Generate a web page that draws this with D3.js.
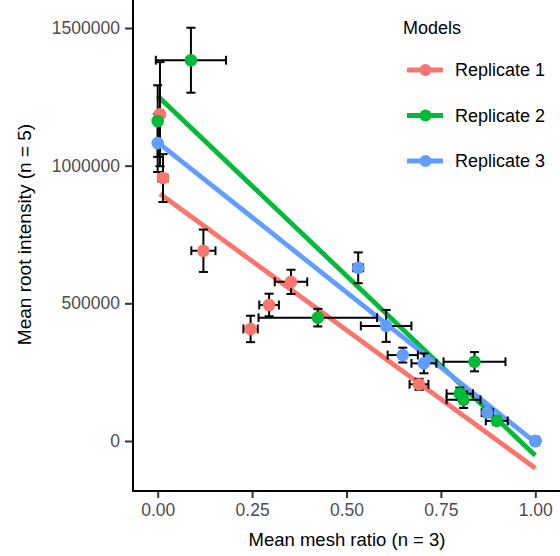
<!DOCTYPE html>
<html>
<head>
<meta charset="utf-8">
<script src="https://cdn.jsdelivr.net/npm/d3@7"></script>
<style>
  html, body { margin: 0; padding: 0; background: #ffffff; }
  svg { display: block; font-family: "Liberation Sans", Arial, sans-serif; }
</style>
</head>
<body>
<svg id="chart" width="560" height="556"></svg>
<script>
// ---------------- data ----------------
const seriesNames = ["Replicate 1", "Replicate 2", "Replicate 3"];
const seriesColors = ["#F8766D", "#00BA38", "#619CFF"];

const rep1X    = [0.006, 0.014, 0.121, 0.246, 0.295, 0.353, 0.692, 1.0];
const rep1Y    = [1187000, 955000, 691000, 407000, 494000, 578000, 206000, 0];
const rep1XErr = [0.008, 0.012, 0.032, 0.019, 0.026, 0.043, 0.025, 0.0];
const rep1YErr = [189000, 87000, 77000, 48000, 41000, 44000, 20000, 15000];

const rep2X    = [0.0, 0.088, 0.424, 0.800, 0.810, 0.839, 0.898, 1.0];
const rep2Y    = [1162000, 1383000, 448000, 172000, 150000, 288000, 73000, 0];
const rep2XErr = [0.006, 0.093, 0.157, 0.035, 0.045, 0.082, 0.029, 0.0];
const rep2YErr = [130000, 118000, 32000, 22000, 30000, 35000, 15000, 10000];

const rep3X    = [0.0, 0.531, 0.605, 0.649, 0.705, 0.873, 1.0];
const rep3Y    = [1082000, 629000, 418000, 312000, 282000, 103000, 0];
const rep3XErr = [0.005, 0.013, 0.067, 0.040, 0.033, 0.015, 0.005];
const rep3YErr = [105000, 56000, 58000, 27000, 36000, 15000, 12000];

// fitted model lines: value at x = 0 and at x = 1
const modelAt0 = [904000, 1253000, 1085000];
const modelAt1 = [-99000, -53000, -5000];

const xTicks = [0, 0.25, 0.5, 0.75, 1.0];
const xTickLabels = ["0.00", "0.25", "0.50", "0.75", "1.00"];
const yTicks = [0, 500000, 1000000, 1500000];
const yTickLabels = ["0", "500000", "1000000", "1500000"];

const xTitle = "Mean mesh ratio (n = 3)";
const yTitle = "Mean root intensity (n = 5)";
const legendTitle = "Models";

// ---------------- layout ----------------
const panel = { left: 133, right: 559, top: 0, bottom: 491 };
const x = d3.scaleLinear().domain([0, 1]).range([157.7, 535.3]);
const y = d3.scaleLinear().domain([0, 1500000]).range([441, 28]);

const svg = d3.select("#chart");

const reps = [
  { x: rep1X, y: rep1Y, xe: rep1XErr, ye: rep1YErr },
  { x: rep2X, y: rep2Y, xe: rep2XErr, ye: rep2YErr },
  { x: rep3X, y: rep3Y, xe: rep3XErr, ye: rep3YErr }
].map((r, i) => ({
  name: seriesNames[i],
  color: seriesColors[i],
  a: modelAt0[i],
  b: modelAt1[i] - modelAt0[i],
  pts: r.x.map((v, j) => ({ x: v, y: r.y[j], xe: r.xe[j], ye: r.ye[j] }))
}));

// ---------------- model lines ----------------
const gLines = svg.append("g");
reps.forEach(r => {
  const ext = d3.extent(r.pts, d => d.x);
  const lineData = ext.map(v => ({ x: v, y: r.a + r.b * v }));
  gLines.append("path")
    .datum(lineData)
    .attr("fill", "none")
    .attr("stroke", r.color)
    .attr("stroke-width", 4.8)
    .attr("d", d3.line().x(d => x(d.x)).y(d => y(d.y)));
});

// ---------------- error bars ----------------
const capXHalf = 0.012;   // data units (x) for vertical bar caps
const capYHalf = 16000;   // data units (y) for horizontal bar caps
const gErr = svg.append("g").attr("stroke", "#000").attr("stroke-width", 2).attr("fill", "none");
reps.forEach(r => {
  r.pts.forEach(d => {
    if (d.ye > 0) {
      gErr.append("line").attr("x1", x(d.x)).attr("x2", x(d.x)).attr("y1", y(d.y - d.ye)).attr("y2", y(d.y + d.ye));
      [d.y - d.ye, d.y + d.ye].forEach(v => {
        gErr.append("line").attr("x1", x(d.x - capXHalf)).attr("x2", x(d.x + capXHalf)).attr("y1", y(v)).attr("y2", y(v));
      });
    }
    if (d.xe > 0) {
      gErr.append("line").attr("y1", y(d.y)).attr("y2", y(d.y)).attr("x1", x(d.x - d.xe)).attr("x2", x(d.x + d.xe));
      [d.x - d.xe, d.x + d.xe].forEach(v => {
        gErr.append("line").attr("y1", y(d.y - capYHalf)).attr("y2", y(d.y + capYHalf)).attr("x1", x(v)).attr("x2", x(v));
      });
    }
  });
});

// ---------------- points ----------------
reps.forEach(r => {
  svg.append("g").selectAll("circle")
    .data(r.pts).join("circle")
    .attr("cx", d => x(d.x)).attr("cy", d => y(d.y))
    .attr("r", 6.3)
    .attr("fill", r.color);
});

// ---------------- axes ----------------
const xAxis = d3.axisBottom(x).tickValues(xTicks).tickFormat((d, i) => xTickLabels[i]).tickSize(7).tickPadding(6);
const yAxis = d3.axisLeft(y).tickValues(yTicks).tickFormat((d, i) => yTickLabels[i]).tickSize(8).tickPadding(5);

const gx = svg.append("g").attr("transform", `translate(0,${panel.bottom})`).call(xAxis);
const gy = svg.append("g").attr("transform", `translate(${panel.left},0)`).call(yAxis);
[gx, gy].forEach(g => {
  g.select(".domain").remove();
  g.selectAll(".tick line").attr("stroke", "#333333").attr("stroke-width", 2);
  g.selectAll(".tick text").attr("fill", "#4D4D4D").style("font-size", "17.5px")
    .style("font-family", '"Liberation Sans", Arial, sans-serif');
});

svg.append("line").attr("x1", panel.left).attr("x2", panel.left).attr("y1", panel.top).attr("y2", panel.bottom + 1)
  .attr("stroke", "#000").attr("stroke-width", 2);
svg.append("line").attr("x1", panel.left - 1).attr("x2", panel.right + 1).attr("y1", panel.bottom).attr("y2", panel.bottom)
  .attr("stroke", "#000").attr("stroke-width", 2);

// axis titles
svg.append("text")
  .attr("x", (panel.left + panel.right) / 2 + 1).attr("y", 546)
  .attr("text-anchor", "middle").style("font-size", "18.5px").attr("fill", "#000")
  .text(xTitle);
svg.append("text")
  .attr("transform", `translate(31,${(panel.top + panel.bottom) / 2 - 11}) rotate(-90)`)
  .attr("text-anchor", "middle").style("font-size", "19px").attr("fill", "#000")
  .text(yTitle);

// ---------------- legend ----------------
const lg = svg.append("g");
lg.append("text").attr("x", 403).attr("y", 34).style("font-size", "18px").attr("fill", "#000").text(legendTitle);
reps.forEach((r, i) => {
  const cy = 70 + i * 45.5;
  lg.append("line").attr("x1", 407).attr("x2", 443).attr("y1", cy).attr("y2", cy)
    .attr("stroke", r.color).attr("stroke-width", 4.8);
  lg.append("circle").attr("cx", 425.5).attr("cy", cy).attr("r", 6).attr("fill", r.color);
  lg.append("text").attr("x", 455).attr("y", cy).attr("dy", "0.36em")
    .style("font-size", "18px").attr("fill", "#000").text(r.name);
});
</script>
</body>
</html>
